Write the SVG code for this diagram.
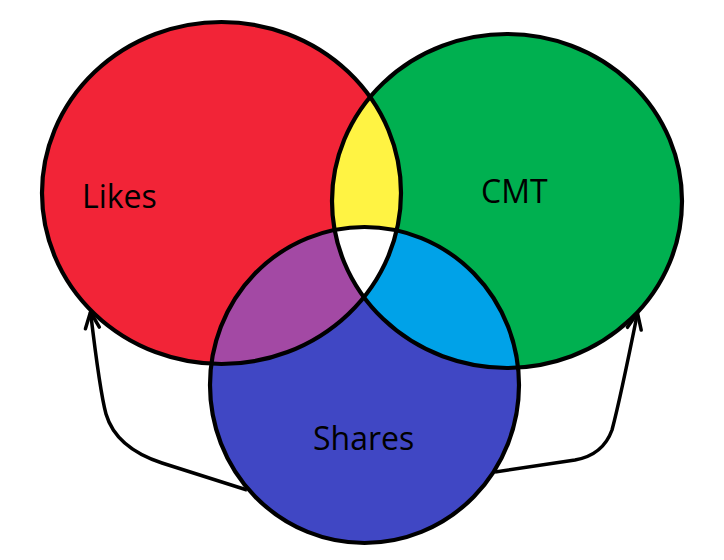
<svg xmlns="http://www.w3.org/2000/svg" xmlns:xlink="http://www.w3.org/1999/xlink" width="724" height="560" viewBox="0 0 724 560">
  <style>
    .outline { fill: none; stroke: #000; stroke-width: 4.2; }
    .label { font-family: "Open Sans", "Liberation Sans", sans-serif; font-size: 32px; fill: #000; }
    .conn { fill: none; stroke: #000; stroke-width: 3.5; stroke-linejoin: round; }
  </style>
  <defs>
    <ellipse id="eR" cx="221.5" cy="193" rx="179.5" ry="171"/>
    <ellipse id="eG" cx="507" cy="201" rx="175" ry="167"/>
    <ellipse id="eB" cx="364.5" cy="385" rx="154.5" ry="158"/>
    <clipPath id="cpR"><use xlink:href="#eR"/></clipPath>
    <clipPath id="cpG"><use xlink:href="#eG"/></clipPath>
    <clipPath id="cpB"><use xlink:href="#eB"/></clipPath>
    <marker id="arrow" markerUnits="userSpaceOnUse" markerWidth="30" markerHeight="30" refX="0" refY="0" viewBox="-20 -15 30 30" orient="auto" overflow="visible">
      <path d="M-16,-7 L0,0 L-16,7" fill="none" stroke="#000" stroke-width="3.5" stroke-linecap="round" stroke-linejoin="round"/>
    </marker>
  </defs>
  <rect width="724" height="560" fill="#fff"/>

  <g id="connectors">
    <path class="conn" d="M247,490 L162,463 Q116,448 106,414 Q100,392 90.5,312" marker-end="url(#arrow)"/>
    <path class="conn" d="M495,472 L575,460 Q603,455 612,430 Q620,400 637.5,313" marker-end="url(#arrow)"/>
  </g>

  <g id="likes"><use xlink:href="#eR" fill="#F22437"/></g>
  <g id="cmt"><use xlink:href="#eG" fill="#00B050"/></g>
  <g id="shares"><use xlink:href="#eB" fill="#4047C4"/></g>

  <g id="overlaps">
    <g id="likes-cmt" clip-path="url(#cpR)"><use xlink:href="#eG" fill="#FFF343"/></g>
    <g id="likes-shares" clip-path="url(#cpR)"><use xlink:href="#eB" fill="#A349A4"/></g>
    <g id="cmt-shares" clip-path="url(#cpG)"><use xlink:href="#eB" fill="#00A2E8"/></g>
    <g id="all-three" clip-path="url(#cpG)"><g clip-path="url(#cpR)"><use xlink:href="#eB" fill="#FFFFFF"/></g></g>
  </g>

  <g id="outlines">
    <use xlink:href="#eR" class="outline"/>
    <use xlink:href="#eG" class="outline"/>
    <use xlink:href="#eB" class="outline"/>
  </g>

  <g id="labels">
    <text class="label" x="82" y="208">Likes</text>
    <text class="label" x="481" y="203">CMT</text>
    <text class="label" x="313" y="450">Shares</text>
  </g>
</svg>
